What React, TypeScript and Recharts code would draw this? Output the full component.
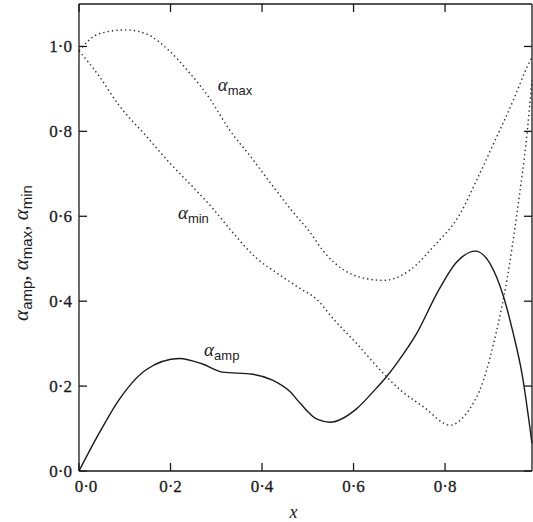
import { LineChart, Line, XAxis, YAxis, ReferenceDot } from 'recharts'

// sampled curves, [x, value]
const ampPoints: [number, number][] = [
  [0, 0], [0.044, 0.089], [0.087, 0.167], [0.146, 0.238], [0.219, 0.265], [0.27, 0.252],
  [0.313, 0.233], [0.379, 0.228], [0.423, 0.214], [0.461, 0.187], [0.483, 0.16], [0.52, 0.122],
  [0.549, 0.115], [0.607, 0.147], [0.643, 0.187], [0.672, 0.222], [0.694, 0.253], [0.738, 0.324],
  [0.782, 0.418], [0.826, 0.493], [0.866, 0.518], [0.898, 0.489], [0.928, 0.41], [0.949, 0.324],
  [0.968, 0.23], [0.99, 0.065],
]

const maxPoints: [number, number][] = [
  [0, 0.99], [0.044, 1.03], [0.102, 1.039], [0.146, 1.03], [0.197, 0.99], [0.24, 0.94],
  [0.284, 0.88], [0.328, 0.805], [0.379, 0.735], [0.423, 0.672], [0.466, 0.612], [0.503, 0.565],
  [0.534, 0.518], [0.578, 0.474], [0.62, 0.455], [0.665, 0.449], [0.723, 0.473], [0.774, 0.528],
  [0.833, 0.606], [0.869, 0.685], [0.906, 0.771], [0.949, 0.873], [0.979, 0.951], [0.99, 0.975],
]

const minPoints: [number, number][] = [
  [0, 0.99], [0.044, 0.93], [0.087, 0.862], [0.146, 0.79], [0.197, 0.727], [0.248, 0.67],
  [0.291, 0.62], [0.335, 0.563], [0.386, 0.503], [0.437, 0.463], [0.483, 0.43], [0.52, 0.404],
  [0.556, 0.358], [0.607, 0.3], [0.658, 0.238], [0.702, 0.191], [0.753, 0.151], [0.811, 0.108],
  [0.847, 0.136], [0.884, 0.214], [0.913, 0.332], [0.935, 0.449], [0.957, 0.606], [0.979, 0.794],
  [0.99, 0.92],
]

const xTicks = [0, 0.2, 0.4, 0.6, 0.8]
const yTicks = [0, 0.2, 0.4, 0.6, 0.8, 1.0]

// where the curve names sit, in data units
const curveTags = [
  { sub: 'max', x: 0.341, y: 0.908 },
  { sub: 'min', x: 0.25, y: 0.605 },
  { sub: 'amp', x: 0.312, y: 0.282 },
]

const toRows = (pts: [number, number][]) => pts.map(([x, y]) => ({ x, y }))

const SERIF = 'Liberation Serif, Times New Roman, serif'
const SANS = 'Liberation Sans, Arial, sans-serif'
const INK = '#1a1a1a'
const TICK = 8 // inward tick length
const GAP_X = 9 // axis to bottom labels
const GAP_Y = 7 // axis to left labels
const X_DOMAIN: [number, number] = [0, 0.99]
const Y_DOMAIN: [number, number] = [0, 1.1]

const fmt = (v: number) => v.toFixed(1).replace('.', '\u00b7')

const labelStyle = { fontFamily: SERIF, fontSize: 17, fill: INK, stroke: INK, strokeWidth: 0.3 }
const tickStroke = { stroke: INK, strokeWidth: 1.3, fill: 'none' }

// ticks point into the plot, so each tick draws its own mark
function BottomTick(props: any) {
  const { x, y, payload } = props
  const shift = payload.value === 0 ? 7 : 0
  return (
    <g>
      <path d={`M${x},${y - GAP_X}v${-TICK}`} {...tickStroke} />
      <text x={x + shift} y={y} dy="0.71em" textAnchor="middle" {...labelStyle}>
        {fmt(payload.value)}
      </text>
    </g>
  )
}

function LeftTick(props: any) {
  const { x, y, payload } = props
  return (
    <g>
      <path d={`M${x + GAP_Y},${y}h${TICK}`} {...tickStroke} />
      <text x={x} y={y} dy="0.35em" textAnchor="end" {...labelStyle}>
        {fmt(payload.value)}
      </text>
    </g>
  )
}

function TopTick(props: any) {
  const { x, y } = props
  return <path d={`M${x},${y}v${TICK}`} {...tickStroke} />
}

function RightTick(props: any) {
  const { x, y } = props
  return <path d={`M${x},${y}h${-TICK}`} {...tickStroke} />
}

function CurveTag({ cx, cy, sub }: any) {
  return (
    <text x={cx} y={cy} dy={5} textAnchor="middle" fill={INK}>
      <tspan fontFamily={SERIF} fontStyle="italic" fontSize={19}>α</tspan>
      <tspan fontFamily={SANS} fontSize={13} dy={4}>{sub}</tspan>
    </text>
  )
}

function YTitle() {
  return (
    <text transform="translate(28 253) rotate(-90)" textAnchor="middle" fill={INK}>
      <tspan fontFamily={SERIF} fontStyle="italic" fontSize={21}>α</tspan>
      <tspan fontFamily={SANS} fontSize={15} dy={4}>amp</tspan>
      <tspan fontFamily={SERIF} fontSize={21} dy={-4}>, </tspan>
      <tspan fontFamily={SERIF} fontStyle="italic" fontSize={21}>α</tspan>
      <tspan fontFamily={SANS} fontSize={15} dy={4}>max</tspan>
      <tspan fontFamily={SERIF} fontSize={21} dy={-4}>, </tspan>
      <tspan fontFamily={SERIF} fontStyle="italic" fontSize={21}>α</tspan>
      <tspan fontFamily={SANS} fontSize={15} dy={4}>min</tspan>
    </text>
  )
}

export default function App() {
  const axisLine = { stroke: INK, strokeWidth: 1.3 }
  const dotted = { stroke: '#2a2a2a', strokeWidth: 1.4, strokeDasharray: '1.4 3' }

  return (
    <div style={{ position: 'absolute', left: 0, top: 0, background: '#fff' }}>
      <LineChart width={533} height={522} margin={{ top: 3, right: 0, bottom: 0, left: 0 }}>
        <XAxis
          dataKey="x"
          type="number"
          domain={X_DOMAIN}
          ticks={xTicks}
          height={51}
          tickSize={0}
          tickMargin={GAP_X}
          axisLine={axisLine}
          tickLine={false}
          tick={(p: any) => <BottomTick {...p} />}
          allowDuplicatedCategory={false}
          label={{
            value: 'x',
            position: 'insideBottom',
            offset: 4,
            dx: -12,
            style: { fontFamily: SERIF, fontStyle: 'italic', fontSize: 18, fill: INK },
          }}
        />
        <XAxis
          xAxisId="top"
          orientation="top"
          dataKey="x"
          type="number"
          domain={X_DOMAIN}
          ticks={xTicks}
          height={1}
          tickSize={0}
          tickMargin={0}
          axisLine={axisLine}
          tickLine={false}
          tick={(p: any) => <TopTick {...p} />}
        />
        <YAxis
          type="number"
          domain={Y_DOMAIN}
          ticks={yTicks}
          width={79}
          tickSize={0}
          tickMargin={GAP_Y}
          axisLine={axisLine}
          tickLine={false}
          tick={(p: any) => <LeftTick {...p} />}
          label={{ content: () => <YTitle /> }}
        />
        <YAxis
          yAxisId="right"
          orientation="right"
          type="number"
          domain={Y_DOMAIN}
          ticks={yTicks}
          width={1}
          tickSize={0}
          tickMargin={0}
          axisLine={axisLine}
          tickLine={false}
          tick={(p: any) => <RightTick {...p} />}
        />
        {/* the max curve is bound to the top/right frame axes, which share the same domains */}
        <Line
          data={toRows(maxPoints)}
          dataKey="y"
          xAxisId="top"
          yAxisId="right"
          type="monotone"
          dot={false}
          {...dotted}
          isAnimationActive={false}
        />
        <Line data={toRows(minPoints)} dataKey="y" type="monotone" dot={false} {...dotted} isAnimationActive={false} />
        <Line
          data={toRows(ampPoints)}
          dataKey="y"
          type="monotone"
          dot={false}
          stroke={INK}
          strokeWidth={1.4}
          isAnimationActive={false}
        />
        {curveTags.map((t) => (
          <ReferenceDot
            key={t.sub}
            x={t.x}
            y={t.y}
            r={0}
            isFront
            shape={(p: any) => <CurveTag cx={p.cx} cy={p.cy} sub={t.sub} />}
          />
        ))}
      </LineChart>
    </div>
  )
}
